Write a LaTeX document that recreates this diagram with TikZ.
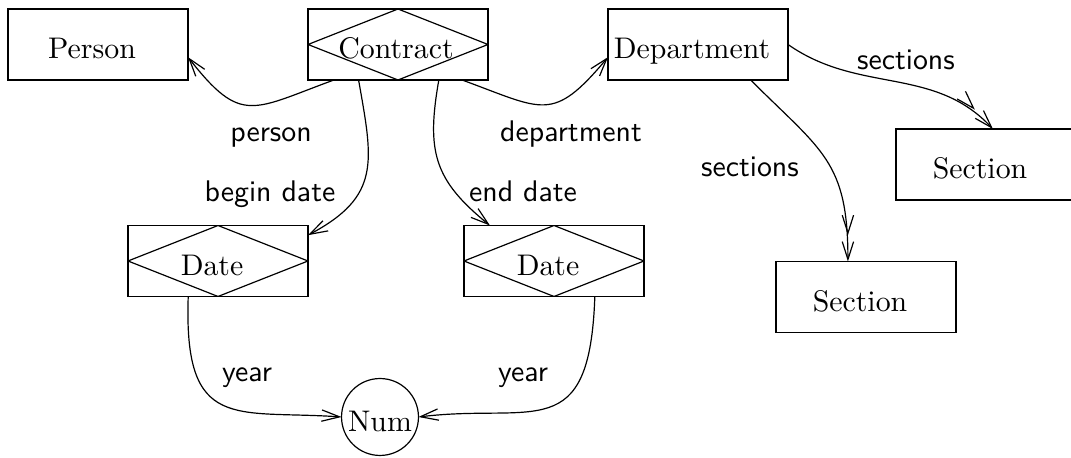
\documentclass[tikz,border=0pt]{standalone}
\usepackage{tikz}
\usetikzlibrary{arrows.meta}

\begin{document}
\begin{tikzpicture}[x=0.3353pt,y=0.3353pt,
    entity/.style={rectangle, draw, minimum width=60.35pt, minimum height=23.8pt,
        inner sep=0pt, outer sep=0pt, text height=9.4pt, text depth=0pt,
        execute at begin node={\kern-4pt}},
    relship/.style={entity, path picture={\draw (path picture bounding box.west)
        -- (path picture bounding box.north) -- (path picture bounding box.east)
        -- (path picture bounding box.south) -- cycle;}},
    value/.style={circle, draw, minimum size=25.8pt, inner sep=0pt, outer sep=0pt,
        text height=9.4pt, text depth=0pt},
    role/.style={anchor=base, font=\sffamily},
    link/.style={-{Straight Barb[length=6pt,width=3.8pt]}},
    links/.style={-{Straight Barb[length=6pt,width=3.8pt,sep=2pt]Straight Barb[length=6pt,width=3.8pt]}}
]
\useasboundingbox (0,0) rectangle (1071,458);
\clip (0,0) rectangle (1071,458);

\node (Person) [entity] at (98,413.5) {Person};
\node (Contract) [relship, execute at begin node={\kern2.7pt}] at (398,413.5) {Contract};
\node (Dept) [entity] at (698,413.5) {Department};
\node (Sec01) [entity] at (986,293.5) {Section};
\node (Sec02) [entity] at (866,161) {Section};
\node (Date01) [relship] at (218,197) {Date};
\node (Date02) [relship] at (554,197) {Date};
\node (Num) [value] at (380,41) {Num};

\node (lPerson) [role] at (271,316) {person};
\node (lBegin) [role] at (270,256) {begin date};
\node (lDept) [role] at (571,316) {department};
\node (lEnd) [role] at (523,256) {end date};
\node (lSec02) [role] at (750,281) {sections};
\node (lSec01) [role] at (906,388) {sections};
\node (lYear01) [role] at (247,76) {year};
\node (lYear02) [role] at (523,76) {year};

\draw [link] (Contract.209) to[out=200,in=-52,looseness=1.5] (Person.-8);
\draw [link] (Contract.222) to[out=-80,in=28,looseness=1.3] (Date01.16);
\draw [link] (Contract.319) to[out=-100,in=141,looseness=1.2] (Date02.151);
\draw [link] (Contract.331) to[out=-20,in=230,looseness=1.5] (Dept.188);
\draw [links] (Dept.326) to[out=-45,in=90,looseness=1.25] (Sec02.117);
\draw [links] (Dept.east) to[out=-35,in=133] (Sec01.79);
\draw [link] (Date01.230) to[out=-92,in=176,out looseness=1.8,in looseness=1.4] (Num.west);
\draw [link] (Date02.319) to[out=-92,in=7,out looseness=1.8,in looseness=1.4] (Num.east);
\end{tikzpicture}
\end{document}
